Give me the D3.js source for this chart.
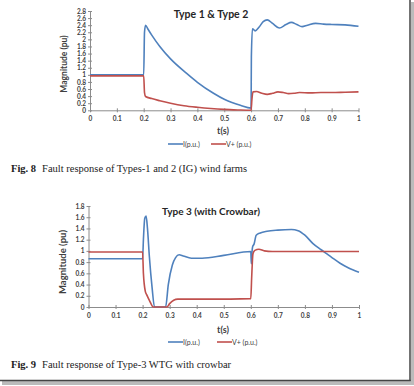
<!DOCTYPE html>
<html>
<head>
<meta charset="utf-8">
<script src="https://cdn.jsdelivr.net/npm/d3@7"></script>
<style>
  body { margin: 0; background: #fff; }
  svg { display: block; }
  .tick text { font-family: Lato, "Open Sans", sans-serif; font-weight: bold; fill: #404040; }
</style>
</head>
<body>
<svg width="414" height="386"></svg>
<script>
// ---- data ----
let x_ticks = [0, 0.1, 0.2, 0.3, 0.4, 0.5, 0.6, 0.7, 0.8, 0.9, 1];
let x_tick_labels = ["0", "0.1", "0.2", "0.3", "0.4", "0.5", "0.6", "0.7", "0.8", "0.9", "1"];

let y1_ticks = [0, 0.2, 0.4, 0.6, 0.8, 1, 1.2, 1.4, 1.6, 1.8, 2, 2.2, 2.4, 2.6, 2.8];
let y1_tick_labels = ["0", "0.2", "0.4", "0.6", "0.8", "1", "1.2", "1.4", "1.6", "1.8", "2", "2.2", "2.4", "2.6", "2.8"];
let y2_ticks = [0, 0.2, 0.4, 0.6, 0.8, 1, 1.2, 1.4, 1.6, 1.8];
let y2_tick_labels = ["0", "0.2", "0.4", "0.6", "0.8", "1", "1.2", "1.4", "1.6", "1.8"];

let series_names = ["I(p.u.)", "V+ (p.u.)"];

// Fig. 8  Type 1 & Type 2
let fig8_I_t = [0, 0.2, 0.203, 0.207, 0.215, 0.23, 0.26, 0.3, 0.36, 0.4, 0.46, 0.5, 0.56, 0.6, 0.601, 0.605, 0.615, 0.63, 0.645, 0.66, 0.68, 0.705, 0.73, 0.75, 0.77, 0.79, 0.81, 0.84, 0.87, 0.9, 0.95, 1.0];
let fig8_I   = [1.0, 1.0, 2.2, 2.4, 2.3, 2.12, 1.8, 1.45, 1.04, 0.79, 0.48, 0.31, 0.14, 0.06, 1.5, 2.3, 2.24, 2.35, 2.5, 2.55, 2.45, 2.32, 2.42, 2.48, 2.42, 2.36, 2.4, 2.45, 2.43, 2.42, 2.41, 2.37];
let fig8_V_t = [0, 0.2, 0.203, 0.207, 0.23, 0.26, 0.3, 0.35, 0.4, 0.45, 0.5, 0.55, 0.6, 0.603, 0.607, 0.62, 0.64, 0.66, 0.68, 0.7, 0.72, 0.74, 0.76, 0.78, 0.82, 0.86, 0.9, 0.95, 1.0];
let fig8_V   = [0.97, 0.97, 0.5, 0.39, 0.33, 0.27, 0.2, 0.13, 0.085, 0.05, 0.025, 0.01, 0.0, 0.3, 0.52, 0.53, 0.48, 0.45, 0.48, 0.52, 0.5, 0.47, 0.48, 0.5, 0.49, 0.5, 0.5, 0.51, 0.52];

// Fig. 9  Type 3 (with Crowbar)
let fig9_I_t = [0, 0.2, 0.203, 0.208, 0.213, 0.218, 0.225, 0.235, 0.244, 0.285, 0.295, 0.31, 0.322, 0.335, 0.35, 0.38, 0.42, 0.5, 0.6, 0.602, 0.604, 0.607, 0.612, 0.62, 0.635, 0.66, 0.7, 0.75, 0.775, 0.8, 0.83, 0.86, 0.88, 0.9, 0.93, 0.96, 1.0];
let fig9_I   = [0.86, 0.86, 1.2, 1.58, 1.62, 1.4, 0.9, 0.35, 0.0, 0.0, 0.4, 0.75, 0.88, 0.93, 0.91, 0.87, 0.87, 0.92, 0.99, 0.77, 0.95, 1.08, 1.12, 1.28, 1.32, 1.35, 1.37, 1.38, 1.36, 1.28, 1.13, 1.02, 0.95, 0.88, 0.78, 0.7, 0.62];
let fig9_V_t = [0, 0.2, 0.203, 0.21, 0.215, 0.225, 0.24, 0.29, 0.3, 0.315, 0.33, 0.36, 0.45, 0.6, 0.603, 0.608, 0.615, 0.63, 0.65, 0.68, 0.75, 1.0];
let fig9_V   = [0.98, 0.98, 0.6, 0.28, 0.22, 0.12, 0.0, 0.0, 0.06, 0.12, 0.14, 0.14, 0.14, 0.15, 0.5, 0.95, 1.01, 1.03, 1.0, 0.99, 0.99, 0.99];

let blue = "#4F81BD", red = "#C0504D";
let axis_color = "#8C8C8C";

var svg = d3.select("svg");

function draw_chart(opt) {
  var x = d3.scaleLinear().domain([0, 1]).range([opt.left, opt.right]);
  var y = d3.scaleLinear().domain([0, opt.ymax]).range([opt.bottom, opt.top]);

  var g = svg.append("g");

  var xa = g.append("g")
    .attr("transform", "translate(0," + opt.bottom + ")")
    .call(d3.axisBottom(x).tickValues(x_ticks).tickFormat((d, i) => x_tick_labels[i]).tickSize(2).tickSizeOuter(0));
  xa.selectAll("text").attr("font-size", 6.5).attr("dy", "0.9em");
  xa.selectAll(".tick line").attr("y1", -2);

  var ya = g.append("g")
    .attr("transform", "translate(" + opt.left + ",0)")
    .call(d3.axisLeft(y).tickValues(opt.yticks).tickFormat((d, i) => opt.ylabels[i]).tickSize(2).tickSizeOuter(0));
  ya.selectAll("text").attr("font-size", 6.5).attr("x", -4);
  ya.selectAll(".tick line").attr("x1", 2);

  g.selectAll(".domain, .tick line").attr("stroke", axis_color);

  var line = d3.line()
    .x(d => x(d[0]))
    .y(d => y(d[1]))
    .curve(d3.curveMonotoneX);

  [[opt.I_t, opt.I, blue], [opt.V_t, opt.V, red]].forEach(function(s) {
    var pts = s[0].map((t, i) => [t, s[1][i]]);
    g.append("path")
      .attr("d", line(pts))
      .attr("fill", "none")
      .attr("stroke", s[2])
      .attr("stroke-width", 1.6)
      .attr("stroke-linejoin", "round");
  });

  // title
  g.append("text")
    .attr("x", opt.title_x).attr("y", opt.title_y)
    .attr("text-anchor", "middle")
    .attr("font-family", "Lato, 'Open Sans', sans-serif")
    .attr("font-weight", "bold")
    .attr("font-size", opt.title_size)
    .attr("fill", "#262626")
    .text(opt.title);

  // y label
  g.append("text")
    .attr("transform", "translate(" + opt.ylab_x + "," + opt.ylab_y + ") rotate(-90)")
    .attr("text-anchor", "middle")
    .attr("font-family", "Lato, 'Open Sans', sans-serif")
    .attr("font-weight", "bold")
    .attr("font-size", opt.ylab_size)
    .attr("fill", "#404040")
    .text("Magnitude (pu)");

  // x label
  g.append("text")
    .attr("x", 223).attr("y", opt.xlab_y)
    .attr("text-anchor", "middle")
    .attr("font-family", "Lato, 'Open Sans', sans-serif")
    .attr("font-weight", "bold")
    .attr("font-size", 9)
    .attr("fill", "#404040")
    .text("t(s)");

  // legend
  var lg = g.append("g").attr("transform", "translate(0," + opt.leg_y + ")");
  [[168, blue, series_names[0]], [opt.leg2_x, red, series_names[1]]].forEach(function(l) {
    lg.append("line")
      .attr("x1", l[0]).attr("x2", l[0] + 15)
      .attr("y1", 0).attr("y2", 0)
      .attr("stroke", l[1]).attr("stroke-width", 1.6);
    lg.append("text")
      .attr("x", l[0] + 15).attr("y", 2.5)
      .attr("font-family", "Lato, 'Open Sans', sans-serif")
      .attr("font-size", 7)
      .attr("fill", "#404040")
      .text(l[2]);
  });

  // caption
  var cap = svg.append("text")
    .attr("x", 11).attr("y", opt.cap_y)
    .attr("font-family", "'Liberation Serif', 'DejaVu Serif', serif")
    .attr("font-size", 10.5)
    .attr("fill", "#222");
  cap.append("tspan").attr("font-weight", "bold").text(opt.cap_bold);
  cap.append("tspan").attr("dx", 6).text(opt.cap_text);
}

draw_chart({
  left: 90, right: 358.5, top: 11, bottom: 110.3, ymax: 2.8,
  yticks: y1_ticks, ylabels: y1_tick_labels,
  I_t: fig8_I_t, I: fig8_I, V_t: fig8_V_t, V: fig8_V,
  title: "Type 1 & Type 2", title_x: 211, title_y: 18, title_size: 10.5,
  ylab_x: 67, ylab_y: 64, ylab_size: 8.5,
  xlab_y: 134, leg_y: 144, leg2_x: 211,
  cap_y: 172, cap_bold: "Fig. 8", cap_text: "Fault response of Types-1 and 2 (IG) wind farms"
});

draw_chart({
  left: 88.5, right: 359, top: 206, bottom: 307, ymax: 1.8,
  yticks: y2_ticks, ylabels: y2_tick_labels,
  I_t: fig9_I_t, I: fig9_I, V_t: fig9_V_t, V: fig9_V,
  title: "Type 3 (with Crowbar)", title_x: 211, title_y: 215, title_size: 10,
  ylab_x: 66, ylab_y: 262, ylab_size: 9.5,
  xlab_y: 333, leg_y: 342, leg2_x: 217,
  cap_y: 368, cap_bold: "Fig. 9", cap_text: "Fault response of Type-3 WTG with crowbar"
});

// page edge with shadow
svg.append("rect").attr("x", 411).attr("y", 2).attr("width", 3).attr("height", 382).attr("fill", "#bbb");
svg.append("rect").attr("x", 2).attr("y", 381).attr("width", 412).attr("height", 4).attr("fill", "#bbb");
svg.append("line").attr("x1", 410).attr("x2", 410).attr("y1", 0).attr("y2", 381)
  .attr("stroke", "#444").attr("stroke-width", 1.5);
svg.append("line").attr("x1", 0).attr("x2", 410.7).attr("y1", 380.5).attr("y2", 380.5)
  .attr("stroke", "#444").attr("stroke-width", 1.5);
</script>
</body>
</html>
